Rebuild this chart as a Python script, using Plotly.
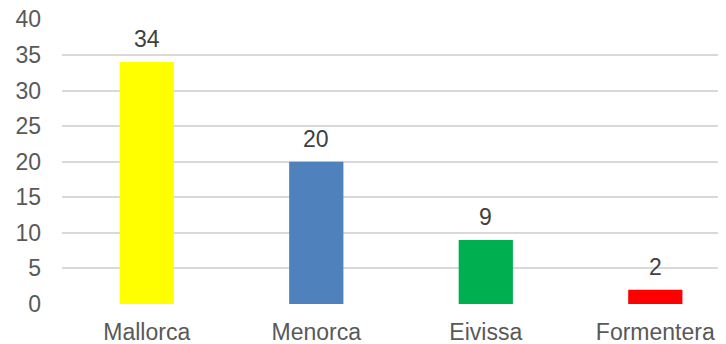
import plotly.graph_objs as go

# Data
islands = ['Mallorca', 'Menorca', 'Eivissa', 'Formentera']
counts = [34, 20, 9, 2]
colors = ['#FFFF00', '#4F81BD', '#00B050', '#FF0000']
y_ticks = [0, 5, 10, 15, 20, 25, 30, 35, 40]

font_family = 'Liberation Sans, Arial, sans-serif'

trace = go.Bar(x=islands, y=counts, width=0.32,
               marker={'color': colors, 'line': {'width': 0}})

# page body adds an 8px margin, so the figure is a bit smaller than the window
layout = go.Layout(
    width=718, height=336,
    margin=dict(l=54, r=0, t=11, b=40, autoexpand=False),
    paper_bgcolor='white', plot_bgcolor='white',
    showlegend=False,
    font=dict(family=font_family, size=23, color='#595959'),
    xaxis=dict(range=[-0.5, 3.417], showgrid=False, showline=False,
               zeroline=False, ticks='', ticklabelstandoff=12,
               automargin=False, ticklabeloverflow='allow',
               tickfont=dict(size=23, color='#595959')),
    yaxis=dict(range=[0, 40.05], tickvals=y_ticks, showgrid=True,
               gridcolor='#D9D9D9', gridwidth=1.5, zeroline=False,
               showline=False, ticks='', ticklabelstandoff=20,
               automargin=False, ticklabeloverflow='allow',
               tickfont=dict(size=23, color='#595959')),
)

fig = go.Figure(data=[trace], layout=layout)

# Value labels above each bar
for name, val in zip(islands, counts):
    fig.add_annotation(x=name, y=val, text=str(val), showarrow=False,
                       yanchor='bottom', yshift=8,
                       font=dict(family=font_family, size=23, color='#404040'))

fig.write_html('out.html')
